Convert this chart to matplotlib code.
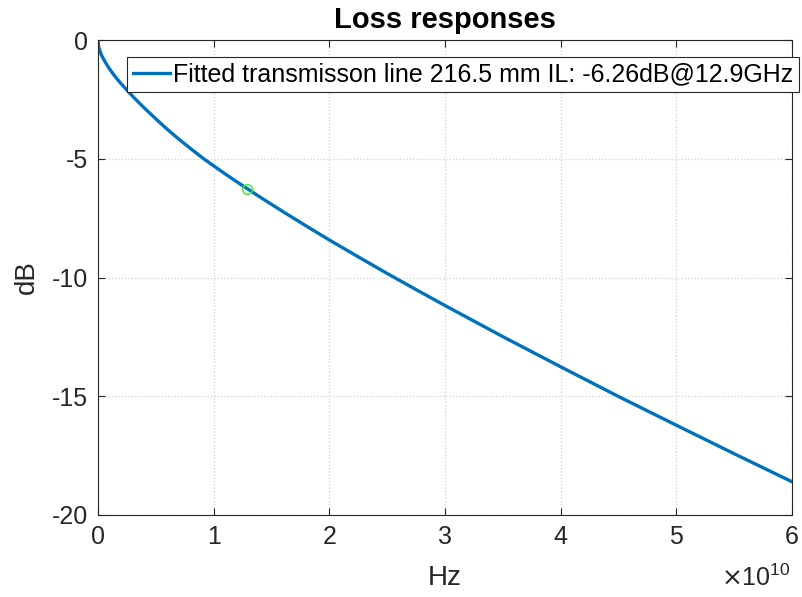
import matplotlib
matplotlib.use("Agg")
import matplotlib.pyplot as plt
import numpy as np
from matplotlib.ticker import FuncFormatter

plt.rcParams['font.family'] = ['Liberation Sans', 'DejaVu Sans']
plt.rcParams['axes.unicode_minus'] = False

# frequency in units of 1e10 Hz, loss in dB
freq_e10 = [0, 0.005, 0.01, 0.02, 0.03, 0.04, 0.06, 0.08, 0.1, 0.125, 0.15,
            0.175, 0.2, 0.25, 0.3, 0.35, 0.4, 0.45, 0.5, 0.55, 0.6, 0.7, 0.8,
            0.9, 1.0, 1.1, 1.2, 1.3, 1.4, 1.6, 1.8, 2.0, 2.25, 2.5, 2.75, 3.0,
            3.5, 4.0, 4.5, 5.0, 5.5, 6.0]
loss_db = [0, -0.26, -0.36, -0.51, -0.63, -0.73, -0.91, -1.07, -1.22, -1.39,
           -1.55, -1.7, -1.84, -2.11, -2.37, -2.62, -2.86, -3.09, -3.32,
           -3.545, -3.765, -4.18, -4.57, -4.95, -5.3, -5.64, -5.97, -6.29,
           -6.61, -7.23, -7.83, -8.42, -9.13, -9.83, -10.51, -11.18, -12.49,
           -13.76, -15.01, -16.22, -17.42, -18.6]
marker_f = 1.29
marker_db = -6.26
legend_label = "Fitted transmisson line 216.5 mm IL: -6.26dB@12.9GHz"

freq_hz = np.array(freq_e10) * 1e10

fig = plt.figure(figsize=(8.02, 5.97), dpi=100)
ax = fig.add_axes([98 / 802, 82 / 597, 694 / 802, 475 / 597])

ax.plot(freq_hz, loss_db, color='#0072BD', linewidth=2.4, label=legend_label)
ax.plot([marker_f * 1e10], [marker_db], 'o', markerfacecolor='none',
        markeredgecolor='#33ee33', markersize=7, markeredgewidth=1)

ax.set_xlim(0, 6e10)
ax.set_ylim(-20, 0)
ax.set_xticks(np.arange(0, 7) * 1e10)
ax.set_yticks([-20, -15, -10, -5, 0])
ax.xaxis.set_major_formatter(FuncFormatter(lambda v, p: f"{v / 1e10:g}"))

# MATLAB style exponent label under the right end of the x axis
fig.text(791 / 802, 1 - 586 / 597, r"$\times\mathregular{10^{10}}$",
         ha='right', va='baseline', fontsize=18, color='#262626')

ax.grid(True, color='#d0d0d0', linestyle=':', linewidth=0.9)
ax.tick_params(direction='in', top=True, right=True, labelsize=18,
               colors='#262626', length=5)
ax.tick_params(axis='x', pad=7)
ax.tick_params(axis='y', pad=7)
for s in ax.spines.values():
    s.set_color('#262626')
    s.set_linewidth(0.8)

ax.set_title("Loss responses", fontsize=21, fontweight='bold', pad=9)
ax.set_xlabel("Hz", fontsize=20, color='#262626', labelpad=12)
ax.set_ylabel("dB", fontsize=20, color='#262626', labelpad=9)

leg = ax.legend(loc='upper right', bbox_to_anchor=(799 / 802, 1 - 57 / 597),
                bbox_transform=fig.transFigure, fontsize=18, fancybox=False,
                edgecolor='#262626', framealpha=1, borderpad=0.22,
                handlelength=1.5, handletextpad=0.12, borderaxespad=0)
leg.get_frame().set_linewidth(0.8)

fig.savefig("out.png", dpi=100)
